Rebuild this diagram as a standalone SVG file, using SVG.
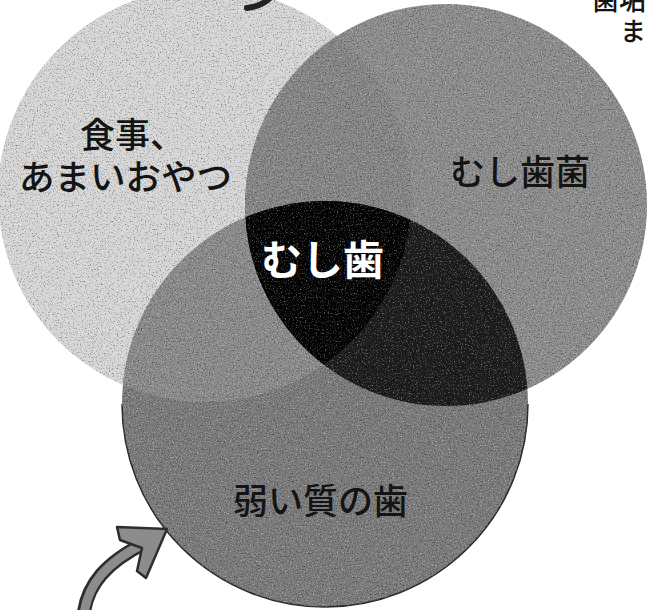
<svg xmlns="http://www.w3.org/2000/svg" width="649" height="610" viewBox="0 0 649 610">
<style>
  .lbl{font-family:"Noto Sans CJK JP","Noto Sans CJK SC",sans-serif;font-weight:500;fill:#141414;}
  .inv{font-family:"Noto Sans CJK JP","Noto Sans CJK SC",sans-serif;font-weight:700;fill:#ffffff;}
  .arrow-out{fill:none;stroke:#2e2e2e;}
  .arrow-in{fill:none;stroke:#8c8c8c;}
</style>
<defs>
  <clipPath id="cL"><circle cx="205" cy="195" r="207"/></clipPath>
  <clipPath id="cR"><circle cx="446" cy="205" r="201"/></clipPath>
  <clipPath id="cB"><circle cx="325" cy="404" r="203"/></clipPath>
  <clipPath id="cU">
    <circle cx="205" cy="195" r="207"/>
    <circle cx="446" cy="205" r="201"/>
    <circle cx="325" cy="404" r="203"/>
  </clipPath>
  <filter id="grain" filterUnits="userSpaceOnUse" x="0" y="0" width="649" height="610">
    <feTurbulence type="fractalNoise" baseFrequency="0.75" numOctaves="2" seed="5" result="n"/>
    <feColorMatrix in="n" type="matrix" values="0 0 0 0 0  0 0 0 0 0  0 0 0 0 0  3 0 0 0 -1.65" result="dark"/>
    <feColorMatrix in="n" type="matrix" values="0 0 0 0 1  0 0 0 0 1  0 0 0 0 1  -3 0 0 0 1.35" result="light"/>
    <feMerge><feMergeNode in="dark"/><feMergeNode in="light"/></feMerge>
  </filter>
</defs>
<rect width="649" height="610" fill="#ffffff"/>

<g id="circle-food">
  <circle cx="205" cy="195" r="207" fill="#d6d6d6"/>
</g>
<g id="circle-bacteria">
  <circle cx="446" cy="205" r="201" fill="#8c8c8c"/>
  <circle cx="446" cy="205" r="201" fill="#858585" clip-path="url(#cL)"/>
</g>
<g id="circle-teeth">
  <circle cx="325" cy="404" r="203" fill="#7a7a7a"/>
  <circle cx="205" cy="195" r="207" fill="#8a8a8a" clip-path="url(#cB)"/>
  <path d="M122 404 A203 203 0 0 0 528 404" fill="none" stroke="#2a2a2a" stroke-width="1.5"/>
</g>
<g id="overlap-caries">
  <circle cx="446" cy="205" r="201" fill="#1c1c1c" clip-path="url(#cB)"/>
  <g clip-path="url(#cB)">
    <circle cx="446" cy="205" r="201" fill="#030303" clip-path="url(#cL)"/>
  </g>
</g>
<g id="texture" clip-path="url(#cU)" opacity="0.45">
  <rect width="649" height="610" fill="#000" filter="url(#grain)"/>
</g>

<g id="labels">
  <text class="lbl" x="80" y="148" font-size="35">食事、</text>
  <text class="lbl" x="19" y="190" font-size="35.5">あまいおやつ</text>
  <text class="lbl" x="450" y="185" font-size="35">むし歯菌</text>
  <text class="inv" x="261" y="275" font-size="41">むし歯</text>
  <text class="lbl" x="233" y="514" font-size="35">弱い質の歯</text>
  <text class="lbl" x="592" y="10" font-size="27">歯垢</text>
  <text class="lbl" x="620" y="41" font-size="26">ま</text>
</g>

<g id="connectors">
  <path class="arrow-out" d="M84 612 C 88 585, 105 563, 145 543" stroke-width="14"/>
  <path class="arrow-in" d="M84 614 C 88 585, 105 563, 145 543" stroke-width="9"/>
  <path d="M117 527 L167 529 L146 578 L137 571 L142 548 L120 540 Z" fill="#8c8c8c" stroke="#2e2e2e" stroke-width="2.5" stroke-linejoin="round"/>
  <path d="M271 -3 C 265 3, 257 7, 247 8" fill="none" stroke="#222" stroke-width="6" stroke-linecap="round"/>
</g>
</svg>
